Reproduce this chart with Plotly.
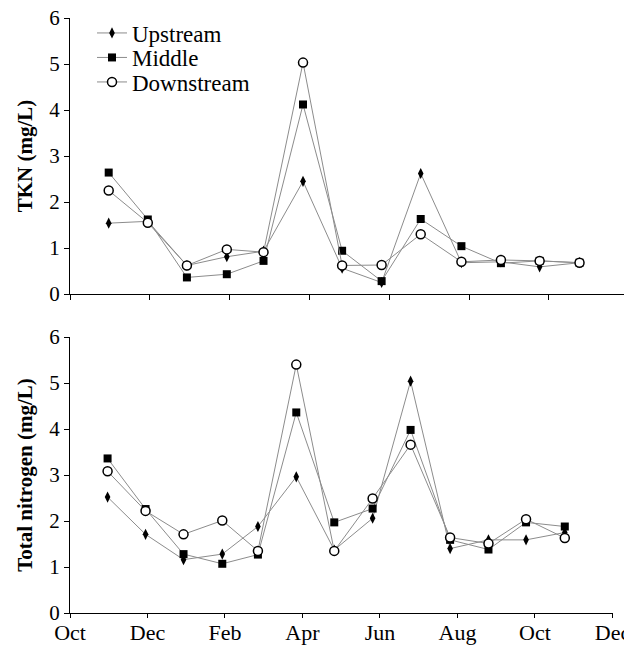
import plotly.graph_objects as go

# Months since 1 October (sampling times)
months = [0.97, 1.95, 2.93, 3.93, 4.85, 5.84, 6.82, 7.81, 8.79, 9.81, 10.8, 11.77, 12.77]

tick_vals = [0, 2, 4, 6, 8, 10, 12, 14]
tick_text = ["Oct", "Dec", "Feb", "Apr", "Jun", "Aug", "Oct", "Dec"]

tkn_upstream = [1.54, 1.58, 0.62, 0.81, 0.93, 2.45, 0.56, 0.25, 2.62, 0.68, 0.70, 0.59, 0.68]
tkn_middle = [2.64, 1.62, 0.36, 0.43, 0.72, 4.12, 0.94, 0.28, 1.63, 1.04, 0.67, 0.72, 0.68]
tkn_downstream = [2.25, 1.55, 0.62, 0.97, 0.91, 5.03, 0.62, 0.63, 1.30, 0.70, 0.74, 0.72, 0.68]

tn_upstream = [2.52, 1.71, 1.16, 1.28, 1.88, 2.96, 1.37, 2.06, 5.04, 1.40, 1.59, 1.59, 1.75]
tn_middle = [3.36, 2.26, 1.28, 1.07, 1.27, 4.36, 1.97, 2.27, 3.98, 1.59, 1.38, 1.97, 1.88]
tn_downstream = [3.08, 2.22, 1.71, 2.01, 1.35, 5.40, 1.35, 2.49, 3.66, 1.64, 1.51, 2.04, 1.63]

series_names = ["Upstream", "Middle", "Downstream"]

FONT = "Liberation Serif"
LINE = dict(color="#8c8c8c", width=1)
markers = {
    "Upstream": dict(symbol="diamond-tall", size=8, color="black", line=dict(width=0)),
    "Middle": dict(symbol="square", size=8, color="black", line=dict(width=0)),
    "Downstream": dict(symbol="circle", size=9, color="white", line=dict(color="black", width=1.5)),
}
legend_ids = {"Upstream": "legend", "Middle": "legend2", "Downstream": "legend3"}

fig = go.Figure()
top = {"Upstream": tkn_upstream, "Middle": tkn_middle, "Downstream": tkn_downstream}
bot = {"Upstream": tn_upstream, "Middle": tn_middle, "Downstream": tn_downstream}

for name in series_names:
    fig.add_trace(go.Scatter(x=months, y=top[name], mode="lines+markers", name=name,
                             line=LINE, marker=markers[name], xaxis="x", yaxis="y",
                             showlegend=True, legend=legend_ids[name], cliponaxis=False))
for name in series_names:
    fig.add_trace(go.Scatter(x=months, y=bot[name], mode="lines+markers", name=name,
                             line=LINE, marker=markers[name], xaxis="x2", yaxis="y2",
                             showlegend=False, cliponaxis=False))

W, H = 624, 646
L = 70
plot_w = W - L
px_top = 39.9
px_bot = 38.75

axis_common = dict(showline=True, linecolor="black", linewidth=1.2, ticks="outside",
                   tickcolor="black", tickwidth=1.2, showgrid=False,
                   zeroline=False, mirror=False)

def legend_box(ypix):
    return dict(x=(92 - L) / plot_w, y=1 - ypix / H, xanchor="left", yanchor="middle",
                xref="paper", yref="paper",
                font=dict(family=FONT, size=23, color="black"),
                bgcolor="rgba(0,0,0,0)", itemwidth=30)

fig.update_layout(
    width=W, height=H,
    margin=dict(l=L, r=0, t=0, b=0, autoexpand=False),
    paper_bgcolor="white", plot_bgcolor="white",
    font=dict(family=FONT, color="black"),
    showlegend=True,
    legend=legend_box(33),
    legend2=legend_box(57.5),
    legend3=legend_box(82),
    xaxis=dict(domain=[0, 1], range=[0, plot_w / px_top], tickvals=tick_vals,
               ticktext=["" for _ in tick_text], anchor="y", ticklen=5, **axis_common),
    yaxis=dict(domain=[1 - 294 / H, 1 - 18 / H], range=[0, 6], dtick=1, anchor="x",
               tickfont=dict(size=21), ticklen=5,
               title=dict(text="<b>TKN (mg/L)</b>", font=dict(size=21), standoff=10),
               **axis_common),
    xaxis2=dict(domain=[0, (px_bot * 14) / plot_w], range=[0, 14.001], tickvals=tick_vals,
                ticktext=tick_text, anchor="y2", tickfont=dict(size=22), ticklen=4,
                ticklabelstandoff=-5,
                ticklabeloverflow="allow", **axis_common),
    yaxis2=dict(domain=[1 - 613 / H, 1 - 337 / H], range=[0, 6], dtick=1, anchor="x2",
                tickfont=dict(size=21), ticklen=5,
                title=dict(text="<b>Total nitrogen (mg/L)</b>", font=dict(size=21), standoff=10),
                **axis_common),
)

fig.write_html("out.html")
